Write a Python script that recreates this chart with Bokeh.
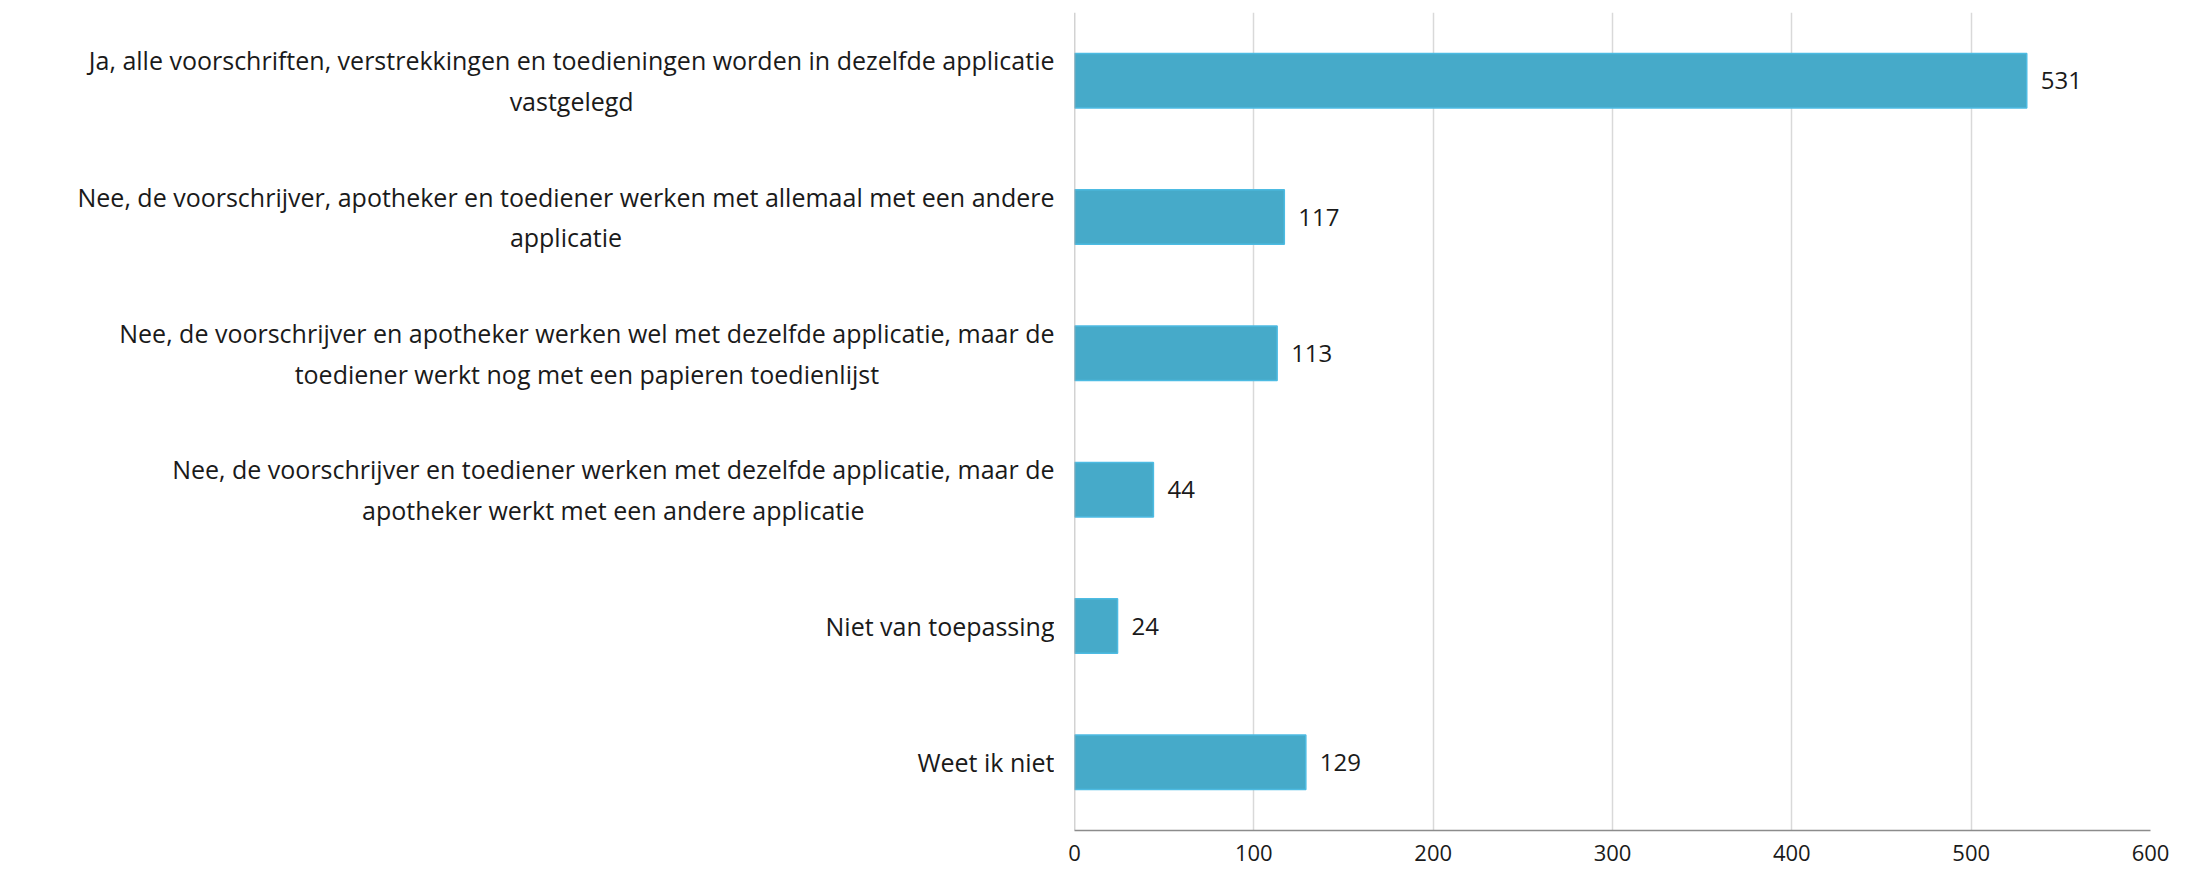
from bokeh.plotting import figure
from bokeh.layouts import row
from bokeh.models import ColumnDataSource, LabelSet, Label, FixedTicker, Span, Range1d
from bokeh.core.properties import value
from bokeh.embed import file_html
from bokeh.resources import INLINE

categories = [
    "Ja, alle voorschriften, verstrekkingen en toedieningen worden in dezelfde applicatie\nvastgelegd",
    "Nee, de voorschrijver, apotheker en toediener werken met allemaal met een andere\napplicatie",
    "Nee, de voorschrijver en apotheker werken wel met dezelfde applicatie, maar de\ntoediener werkt nog met een papieren toedienlijst",
    "Nee, de voorschrijver en toediener werken met dezelfde applicatie, maar de\napotheker werkt met een andere applicatie",
    "Niet van toepassing",
    "Weet ik niet",
]
values = [531, 117, 113, 44, 24, 129]
x_ticks = [0, 100, 200, 300, 400, 500, 600]

FONT = "Open Sans"
TXT = "#1a1a1a"
n = len(categories)
ypos = [n - 1 - i for i in range(n)]  # first category on top
src = ColumnDataSource(dict(y=ypos, val=values, lab=[str(v) for v in values]))
yr = Range1d(-0.5, n - 0.5)

H = 866
TOP, BOTTOM = 12, 36
LEFT_W = 1054

# left panel holding the category labels
lp = figure(width=LEFT_W, height=H, output_backend="svg", toolbar_location=None,
            x_range=Range1d(0, 1), y_range=yr,
            min_border_left=0, min_border_right=0, min_border_top=TOP, min_border_bottom=BOTTOM)
lp.axis.visible = False
lp.grid.visible = False
lp.outline_line_color = None
for c, yy in zip(categories, ypos):
    lp.add_layout(Label(x=1, y=yy, text=c, anchor="center_right",
                        text_align="center", text_baseline="middle",
                        text_font=FONT, text_font_size="25px", text_color=TXT,
                        text_line_height=1.2))

p = figure(
    width=2190 - LEFT_W, height=H, output_backend="svg", toolbar_location=None,
    y_range=yr, x_range=(0, 600),
    min_border_left=20, min_border_right=40, min_border_top=TOP, min_border_bottom=BOTTOM,
)
p.hbar(y="y", right="val", left=0, height=0.4, source=src,
       fill_color="#46AAC9", line_color="#4DBBE2", line_width=1.5)

labels = LabelSet(x="val", y="y", text="lab", source=src, x_offset=14,
                  text_baseline="middle", text_font=value(FONT), text_font_size="24px",
                  text_color=TXT)
p.add_layout(labels)

p.outline_line_color = None
p.xgrid.grid_line_color = "#d9d9d9"
p.xgrid.grid_line_width = 1.5
p.ygrid.grid_line_color = None
p.yaxis.visible = False
p.add_layout(Span(location=0, dimension="height", line_color="#a6a6a6", line_width=1.5))

p.xaxis.ticker = FixedTicker(ticks=x_ticks)
p.xaxis.axis_line_color = "#8c8c8c"
p.xaxis.axis_line_width = 1.5
p.xaxis.major_tick_line_color = None
p.xaxis.minor_tick_line_color = None
p.xaxis.major_label_text_font = FONT
p.xaxis.major_label_text_font_size = "22px"
p.xaxis.major_label_text_color = TXT
p.xaxis.major_label_standoff = 8

layout = row(lp, p)
open("out.html", "w").write(file_html(layout, INLINE))
